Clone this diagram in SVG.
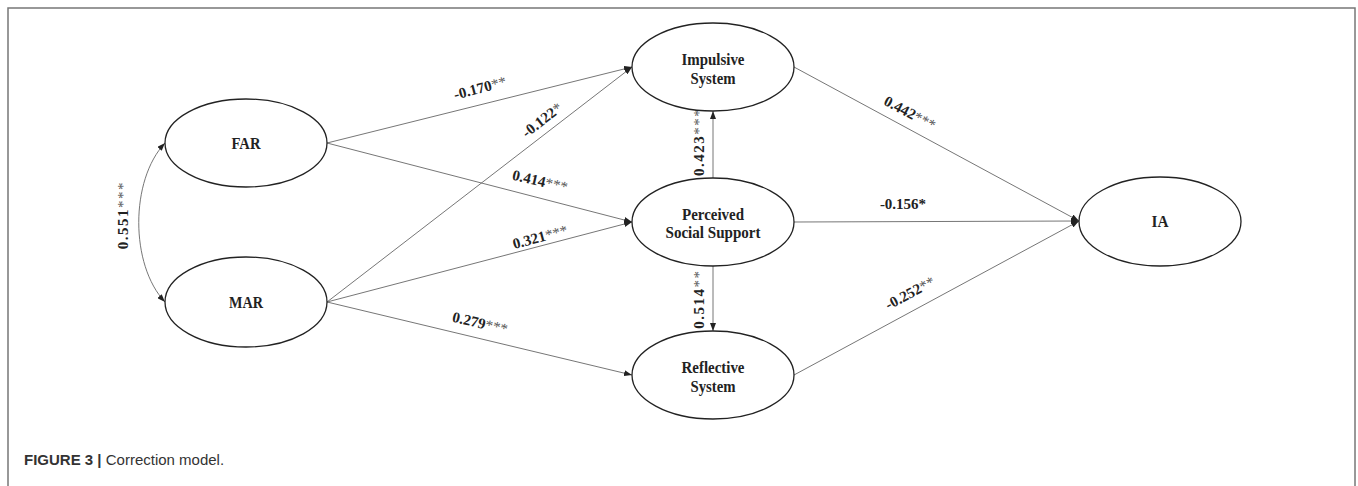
<svg xmlns="http://www.w3.org/2000/svg" width="1358" height="486" viewBox="0 0 1358 486">
<style>
.frame{fill:none;stroke:#777;stroke-width:1.5}
.node{fill:#fff;stroke:#222;stroke-width:1.3}
.nt{font-family:"Liberation Serif","Times New Roman",serif;font-weight:bold;font-size:16px;fill:#222;text-anchor:middle}
.edge{fill:none;stroke:#666;stroke-width:0.9}
.lab{font-family:"Liberation Serif","Times New Roman",serif;font-weight:bold;font-size:15px;fill:#222;text-anchor:middle}
.st{fill:#555;font-weight:normal}
.vl{letter-spacing:1.5px}
.cap{font-family:"Liberation Sans Narrow","Liberation Sans",Arial,sans-serif;font-size:15px;fill:#333}
</style>
<defs>
<marker id="ah" markerWidth="8" markerHeight="6" refX="8" refY="3" orient="auto-start-reverse" markerUnits="userSpaceOnUse">
<path d="M0,0 L8,3 L0,6 z" fill="#222"/>
</marker>
</defs>
<rect class="frame" x="8" y="8" width="1347" height="520"/>
<g id="connectors">
<path class="edge" d="M165,143 C130,180 130,265 165,302" marker-start="url(#ah)" marker-end="url(#ah)"/>
<line class="edge" x1="327" y1="143" x2="632" y2="67" marker-end="url(#ah)"/>
<line class="edge" x1="327" y1="302" x2="632" y2="67" marker-end="url(#ah)"/>
<line class="edge" x1="327" y1="143" x2="632" y2="222" marker-end="url(#ah)"/>
<line class="edge" x1="327" y1="302" x2="632" y2="222" marker-end="url(#ah)"/>
<line class="edge" x1="327" y1="302" x2="632" y2="375" marker-end="url(#ah)"/>
<line class="edge" x1="713" y1="178" x2="713" y2="111" marker-end="url(#ah)"/>
<line class="edge" x1="713" y1="266" x2="713" y2="331" marker-end="url(#ah)"/>
<line class="edge" x1="794" y1="67" x2="1079" y2="221" marker-end="url(#ah)"/>
<line class="edge" x1="794" y1="222" x2="1079" y2="221" marker-end="url(#ah)"/>
<line class="edge" x1="794" y1="375" x2="1079" y2="221" marker-end="url(#ah)"/>
</g>
<g id="edge-labels">
<text class="lab vl" x="123" y="215" dy="5" transform="rotate(-90 123 215)">0.551<tspan class="st">***</tspan></text>
<text class="lab" x="480" y="88" dy="5" transform="rotate(-15 480 88)">-0.170<tspan class="st">**</tspan></text>
<text class="lab" x="542" y="120" dy="5" transform="rotate(-38 542 120)">-0.122<tspan class="st">*</tspan></text>
<text class="lab" x="540" y="181" dy="5" transform="rotate(13 540 181)">0.414<tspan class="st">***</tspan></text>
<text class="lab" x="540" y="237" dy="5" transform="rotate(-15 540 237)">0.321<tspan class="st">***</tspan></text>
<text class="lab" x="480" y="323" dy="5" transform="rotate(13 480 323)">0.279<tspan class="st">***</tspan></text>
<text class="lab vl" x="699" y="145" dy="5" transform="rotate(-90 699 145)">-0.423<tspan class="st">***</tspan></text>
<text class="lab vl" x="699" y="299" dy="5" transform="rotate(-90 699 299)">0.514<tspan class="st">**</tspan></text>
<text class="lab" x="910" y="113" dy="5" transform="rotate(28 910 113)">0.442<tspan class="st">***</tspan></text>
<text class="lab" x="903" y="204" dy="5">-0.156*</text>
<text class="lab" x="910" y="293" dy="5" transform="rotate(-28 910 293)">-0.252<tspan class="st">**</tspan></text>
</g>
<g id="FAR">
<ellipse class="node" cx="246" cy="143" rx="81" ry="44"/>
<text class="nt" x="246" y="148.5" textLength="29" lengthAdjust="spacingAndGlyphs">FAR</text>
</g>
<g id="MAR">
<ellipse class="node" cx="246" cy="302" rx="81" ry="45"/>
<text class="nt" x="246" y="308" textLength="34" lengthAdjust="spacingAndGlyphs">MAR</text>
</g>
<g id="Impulsive">
<ellipse class="node" cx="713" cy="67" rx="81" ry="44"/>
<text class="nt" x="713" y="65" textLength="63" lengthAdjust="spacingAndGlyphs">Impulsive</text>
<text class="nt" x="713" y="83.5" textLength="45" lengthAdjust="spacingAndGlyphs">System</text>
</g>
<g id="PSS">
<ellipse class="node" cx="713" cy="222" rx="81" ry="44"/>
<text class="nt" x="713" y="220" textLength="62" lengthAdjust="spacingAndGlyphs">Perceived</text>
<text class="nt" x="713" y="238" textLength="95" lengthAdjust="spacingAndGlyphs">Social Support</text>
</g>
<g id="Reflective">
<ellipse class="node" cx="713" cy="375" rx="81" ry="44"/>
<text class="nt" x="713" y="373" textLength="63" lengthAdjust="spacingAndGlyphs">Reflective</text>
<text class="nt" x="713" y="391.5" textLength="45" lengthAdjust="spacingAndGlyphs">System</text>
</g>
<g id="IA">
<ellipse class="node" cx="1160" cy="221.5" rx="81" ry="44.5"/>
<text class="nt" x="1160" y="227" textLength="17" lengthAdjust="spacingAndGlyphs">IA</text>
</g>
<text class="cap" x="24" y="465"><tspan font-weight="bold">FIGURE 3 | </tspan>Correction model.</text>
</svg>
